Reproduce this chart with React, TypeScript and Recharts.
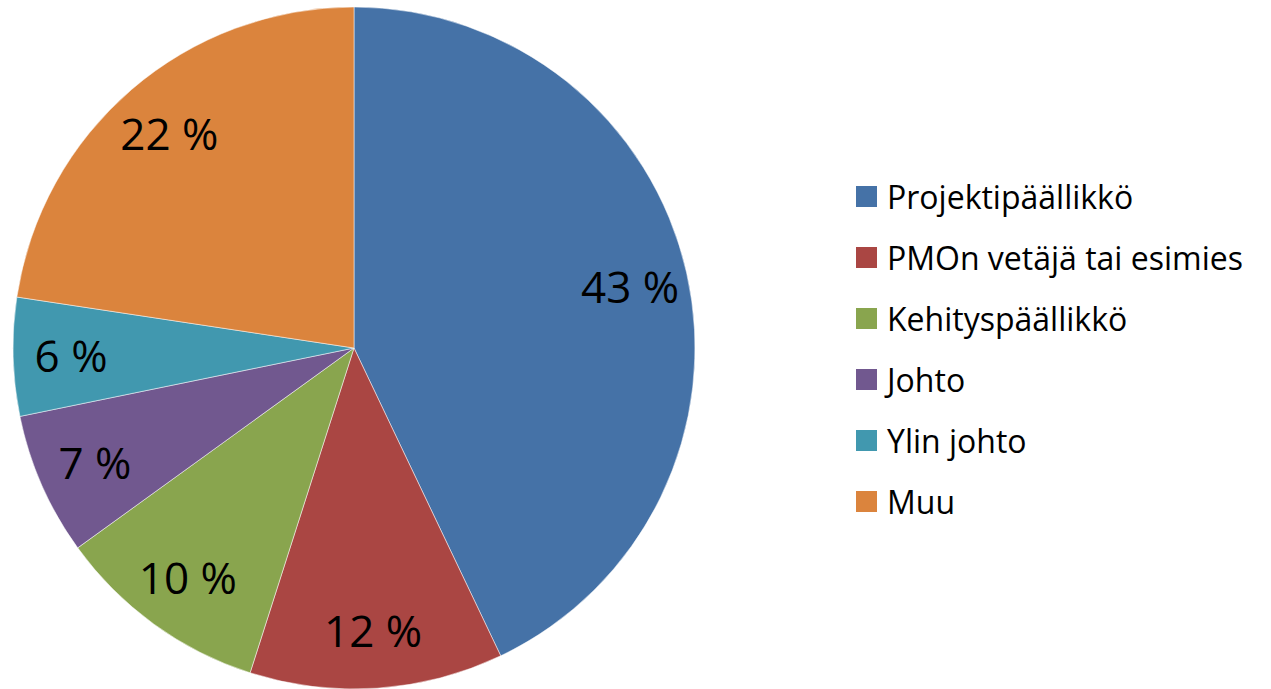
import { Legend, Pie, PieChart, Cell } from "recharts";

const CATEGORIES = [
  "Projektipäällikkö",
  "PMOn vetäjä tai esimies",
  "Kehityspäällikkö",
  "Johto",
  "Ylin johto",
  "Muu",
];
// slice sizes
const SHARES = [42.9, 12.0, 10.1, 6.75, 5.6, 22.6];
// the percentages printed on the slices
const LABELS = ["43 %", "12 %", "10 %", "7 %", "6 %", "22 %"];
const COLORS = ["#4572a7", "#aa4643", "#89a54e", "#71588f", "#4198af", "#db843d"];

const FONT = "'Open Sans', 'Liberation Sans', sans-serif";
const RAD = Math.PI / 180;

const data = CATEGORIES.map((name, i) => ({ name, value: SHARES[i], label: LABELS[i] }));

function SliceLabel(props: any) {
  const { cx, cy, midAngle, outerRadius, index } = props;
  const r = outerRadius * 0.83;
  const x = cx + r * Math.cos(-midAngle * RAD);
  const y = cy + r * Math.sin(-midAngle * RAD);
  return (
    <text
      x={x}
      y={y}
      textAnchor="middle"
      dominantBaseline="central"
      fontFamily={FONT}
      fontSize={44}
      fill="#000"
    >
      {LABELS[index]}
    </text>
  );
}

// Legend keeps the slice order instead of Recharts' alphabetical sort.
function LegendList() {
  return (
    <div style={{ fontFamily: FONT, fontSize: 32, color: "#000" }}>
      {CATEGORIES.map((name, i) => (
        <div key={name} style={{ display: "flex", alignItems: "center", height: 61 }}>
          <span
            style={{ width: 21, height: 21, background: COLORS[i], marginRight: 10, flex: "none" }}
          />
          <span style={{ whiteSpace: "nowrap" }}>{name}</span>
        </div>
      ))}
    </div>
  );
}

export default function App() {
  return (
    <div style={{ position: "absolute", left: 0, top: 0, background: "#fff" }}>
      <PieChart width={1271} height={689} margin={{ top: 0, right: 0, bottom: 0, left: 0 }}>
        <Pie
          data={data}
          dataKey="value"
          nameKey="name"
          cx={354}
          cy={348}
          outerRadius={341}
          startAngle={90}
          endAngle={-270}
          stroke="#fff"
          strokeWidth={0.5}
          label={SliceLabel}
          labelLine={false}
          isAnimationActive={false}
        >
          {data.map((d, i) => (
            <Cell key={d.name} fill={COLORS[i]} />
          ))}
        </Pie>
        <Legend
          layout="vertical"
          align="right"
          verticalAlign="middle"
          content={<LegendList />}
          wrapperStyle={{ left: 856, top: 166, width: 415 }}
        />
      </PieChart>
    </div>
  );
}
